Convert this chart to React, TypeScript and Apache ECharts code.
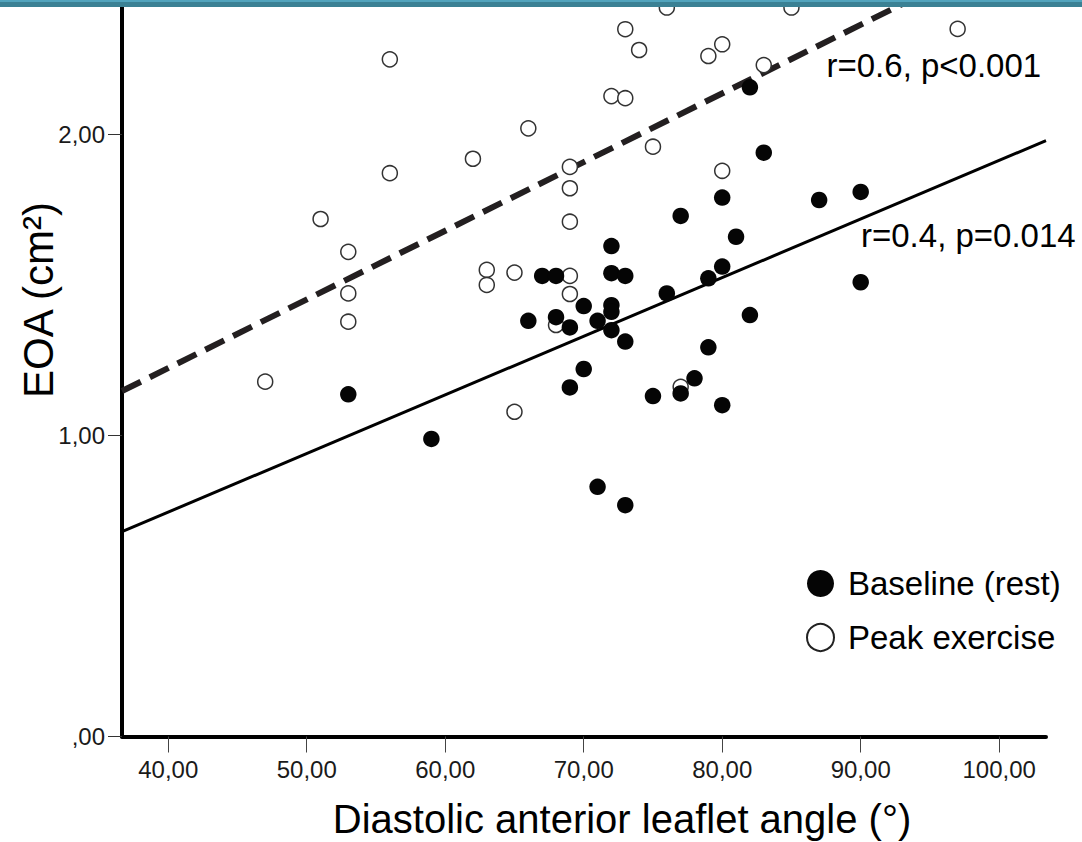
import React, { useEffect, useRef } from 'react';
import * as echarts from 'echarts';

// Axis ticks and extents
const xTicks = [40, 50, 60, 70, 80, 90, 100];
const yTicks = [0, 1, 2];
const X_MIN = 36.66;
const X_MAX = 103.38;
const Y_MIN = 0;
const Y_MAX = 2.445;

// Baseline (rest): filled circles
const baselineAngle = [53, 59, 67, 68, 66, 68, 69, 69, 70, 70, 71, 71, 72, 72, 72, 72, 72, 73, 73, 73, 75, 76, 77, 77, 78, 79, 79, 80, 80, 80, 81, 82, 82, 83, 87, 90, 90];
const baselineEOA = [1.136, 0.988, 1.529, 1.529, 1.38, 1.392, 1.358, 1.159, 1.429, 1.22, 1.38, 0.829, 1.628, 1.538, 1.432, 1.41, 1.349, 1.529, 1.311, 0.768, 1.13, 1.471, 1.728, 1.139, 1.189, 1.521, 1.292, 1.789, 1.56, 1.1, 1.659, 2.155, 1.399, 1.938, 1.781, 1.808, 1.508];

// Peak exercise: open circles
const peakAngle = [47, 51, 53, 53, 53, 56, 56, 62, 63, 63, 65, 65, 66, 68, 69, 69, 69, 69, 69, 72, 73, 73, 74, 75, 76, 77, 80, 79, 80, 83, 85, 97];
const peakEOA = [1.178, 1.718, 1.609, 1.471, 1.377, 2.248, 1.87, 1.918, 1.549, 1.499, 1.54, 1.078, 2.019, 1.366, 1.891, 1.82, 1.709, 1.529, 1.469, 2.126, 2.119, 2.348, 2.279, 1.958, 2.42, 1.161, 2.298, 2.259, 1.878, 2.229, 2.42, 2.349];

// Fit lines
const restFit = { intercept: -0.0334, slope: 0.01946 };
const peakFit = { intercept: 0.311, slope: 0.0228 };

const seriesNames = ['Baseline (rest)', 'Peak exercise'];
const annotations = ['r=0.6, p<0.001', 'r=0.4, p=0.014'];
const xTitle = 'Diastolic anterior leaflet angle (°)';
const yTitle = 'EOA (cm²)';

const FONT = '"Liberation Sans", Arial, Helvetica, sans-serif';

const fmt = (v: number) => (v === 0 ? ',00' : v.toFixed(2).replace('.', ','));

export default function App() {
  const ref = useRef<HTMLDivElement>(null);

  useEffect(() => {
    if (!ref.current) return;
    const chart = echarts.init(ref.current, undefined, { renderer: 'svg' });

    const fitLine = (f: { intercept: number; slope: number }) => [
      [X_MIN, f.intercept + f.slope * X_MIN],
      [X_MAX, f.intercept + f.slope * X_MAX],
    ];

    chart.setOption({
      animation: false,
      backgroundColor: '#ffffff',
      grid: { left: 122, right: 36, top: 0, bottom: 105.5, containLabel: false },
      xAxis: {
        type: 'value',
        min: X_MIN,
        max: X_MAX,
        axisLine: { show: true, lineStyle: { color: '#000', width: 4 } },
        axisTick: { show: true, customValues: xTicks, length: 16, lineStyle: { color: '#444', width: 1 } },
        axisLabel: {
          show: true,
          customValues: xTicks,
          formatter: (v: number) => fmt(v),
          margin: 21,
          fontSize: 24,
          fontFamily: FONT,
          color: '#1a1a1a',
        },
        splitLine: { show: false },
      },
      yAxis: {
        type: 'value',
        min: Y_MIN,
        max: Y_MAX,
        axisLine: { show: true, lineStyle: { color: '#000', width: 4 } },
        axisTick: { show: true, customValues: yTicks, length: 14, lineStyle: { color: '#333', width: 1 } },
        axisLabel: {
          show: true,
          customValues: yTicks,
          formatter: (v: number) => fmt(v),
          margin: 17,
          fontSize: 24,
          fontFamily: FONT,
          color: '#1a1a1a',
          padding: [5, 0, 0, 0],
        },
        splitLine: { show: false },
      },
      legend: {
        orient: 'vertical',
        left: 806,
        top: 567,
        padding: 0,
        itemWidth: 27,
        itemHeight: 27,
        itemGap: 21,
        icon: 'circle',
        selectedMode: false,
        textStyle: { fontSize: 33, fontFamily: FONT, color: '#000', padding: [0, 0, 0, 9] },
        data: [
          { name: seriesNames[0] },
          { name: seriesNames[1], itemStyle: { color: '#fff', borderColor: '#222', borderWidth: 2 } },
        ],
      },
      series: [
        {
          name: 'fitPeak',
          type: 'line',
          data: fitLine(peakFit),
          symbol: 'none',
          clip: true,
          silent: true,
          z: 1,
          lineStyle: { color: '#231f20', width: 6, type: [21, 10], cap: 'butt' },
        },
        {
          name: 'fitRest',
          type: 'line',
          data: fitLine(restFit),
          symbol: 'none',
          clip: true,
          silent: true,
          z: 1,
          lineStyle: { color: '#000', width: 3, type: 'solid' },
        },
        {
          name: seriesNames[1],
          type: 'scatter',
          data: peakAngle.map((a, i) => [a, peakEOA[i]]),
          symbol: 'circle',
          symbolSize: 15,
          clip: false,
          z: 2,
          itemStyle: { color: '#ffffff', borderColor: '#333', borderWidth: 1.5, opacity: 1 },
        },
        {
          name: seriesNames[0],
          type: 'scatter',
          data: baselineAngle.map((a, i) => [a, baselineEOA[i]]),
          symbol: 'circle',
          symbolSize: 16.5,
          clip: false,
          z: 3,
          itemStyle: { color: '#050505', opacity: 1 },
        },
      ],
      graphic: [
        { type: 'rect', z: 100, shape: { x: 0, y: 0, width: 1082, height: 7 }, style: { fill: '#3b8194' } },
        { type: 'rect', z: 101, shape: { x: 0, y: 0, width: 1082, height: 2 }, style: { fill: '#52a4bd' } },
        {
          type: 'text', z: 50, x: 826.5, y: 65,
          style: { text: annotations[0], fontSize: 33, fontFamily: FONT, fill: '#000', align: 'left', verticalAlign: 'middle' },
        },
        {
          type: 'text', z: 50, x: 861, y: 235,
          style: { text: annotations[1], fontSize: 33, fontFamily: FONT, fill: '#000', align: 'left', verticalAlign: 'middle' },
        },
        {
          type: 'text', z: 50, x: 622, y: 819,
          style: { text: xTitle, fontSize: 40, fontFamily: FONT, fill: '#000', align: 'center', verticalAlign: 'middle' },
        },
        {
          type: 'text', z: 50, x: 38, y: 300, rotation: Math.PI / 2,
          style: { text: yTitle, fontSize: 42, fontFamily: FONT, fill: '#000', align: 'center', verticalAlign: 'middle' },
        },
      ],
    });

    return () => chart.dispose();
  }, []);

  return <div ref={ref} style={{ position: 'fixed', left: 0, top: 0, width: 1082, height: 842 }} />;
}
